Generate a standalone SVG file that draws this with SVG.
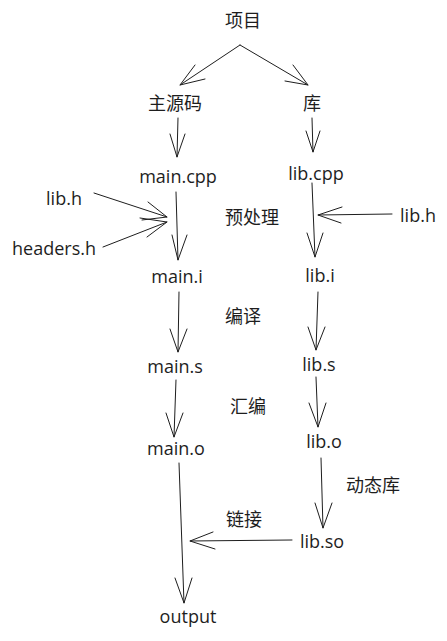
<svg xmlns="http://www.w3.org/2000/svg" width="447" height="641" viewBox="0 0 447 641">
<style>
.t{font-family:"Open Sans","Noto Sans CJK SC",sans-serif;font-size:18px;fill:#1e1e1e;text-anchor:middle}
.c{stroke:#1e1e1e;stroke-width:1;fill:none;stroke-linecap:round;stroke-linejoin:round}
</style>
<rect width="447" height="641" fill="#ffffff"/>
<g id="connectors">
<path class="c" d="M240 45 L180 85 M195 65 L180 85 L205 79"/>
<path class="c" d="M240 45 L308 85 M293 65 L308 85 L285 81"/>
<path class="c" d="M178 118 L177 157 M170 134 L177 157 L185 134"/>
<path class="c" d="M312 118 L313 152 M306 131 L313 152 L320 131"/>
<path class="c" d="M176 192 L178 260 M172 235 L178 260 L187 235"/>
<path class="c" d="M94 193 L167 217 M148 202 L167 217 L142 220"/>
<path class="c" d="M103 247 L167 222 M140 218 L167 222 L147 237"/>
<path class="c" d="M312 183 L315 257 M307 233 L315 257 L323 233"/>
<path class="c" d="M392 214 L318 215 M342 207 L318 215 L341 223"/>
<path class="c" d="M179 292 L178 352 M170 329 L178 352 L187 329"/>
<path class="c" d="M318 292 L316 350 M308 327 L316 350 L325 327"/>
<path class="c" d="M176 380 L174 437 M166 413 L174 437 L183 413"/>
<path class="c" d="M316 377 L318 427 M309 403 L318 427 L326 403"/>
<path class="c" d="M179 463 L184 603 M175 578 L184 603 L192 578"/>
<path class="c" d="M321 458 L323 528 M315 503 L323 528 L332 503"/>
<path class="c" d="M292 540 L190 541 M213 532 L190 541 L215 549"/>
</g>
<g id="n-project"><text class="t" x="243" y="27">项目</text></g>
<g id="n-main-src"><text class="t" x="175" y="110">主源码</text></g>
<g id="n-lib"><text class="t" x="312" y="110">库</text></g>
<g id="n-main-cpp"><text class="t" x="178" y="183">main.cpp</text></g>
<g id="n-lib-cpp"><text class="t" x="316" y="180">lib.cpp</text></g>
<g id="n-lib-h-left"><text class="t" x="64" y="205">lib.h</text></g>
<g id="n-headers-h"><text class="t" x="54" y="255">headers.h</text></g>
<g id="n-lib-h-right"><text class="t" x="418" y="222">lib.h</text></g>
<g id="l-preprocess"><text class="t" x="252" y="224">预处理</text></g>
<g id="n-main-i"><text class="t" x="177" y="283">main.i</text></g>
<g id="n-lib-i"><text class="t" x="320" y="282">lib.i</text></g>
<g id="l-compile"><text class="t" x="243" y="323">编译</text></g>
<g id="n-main-s"><text class="t" x="175" y="373">main.s</text></g>
<g id="n-lib-s"><text class="t" x="319" y="371">lib.s</text></g>
<g id="l-assemble"><text class="t" x="248" y="413">汇编</text></g>
<g id="n-main-o"><text class="t" x="176" y="455">main.o</text></g>
<g id="n-lib-o"><text class="t" x="324" y="448">lib.o</text></g>
<g id="l-dynamic"><text class="t" x="373" y="492">动态库</text></g>
<g id="l-link"><text class="t" x="244" y="526">链接</text></g>
<g id="n-lib-so"><text class="t" x="322" y="548">lib.so</text></g>
<g id="n-output"><text class="t" x="188" y="623">output</text></g>
</svg>
